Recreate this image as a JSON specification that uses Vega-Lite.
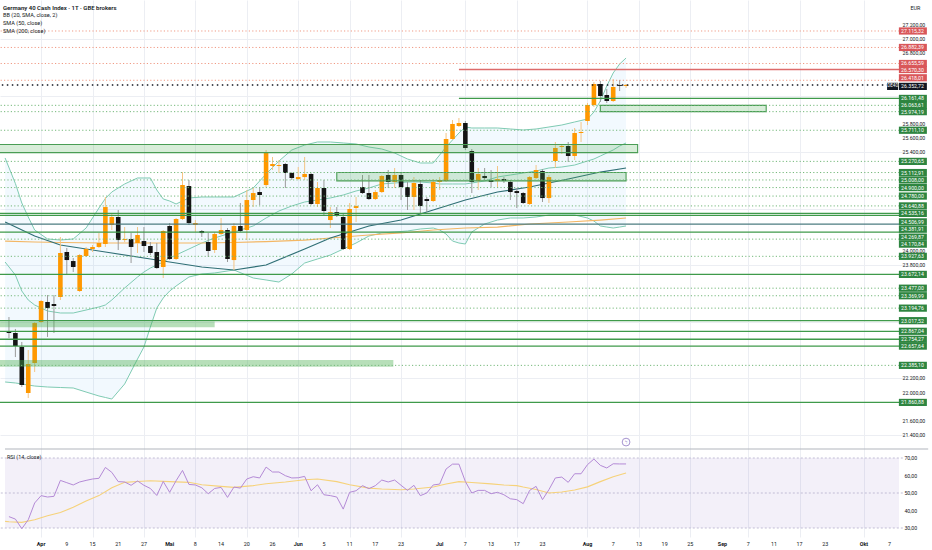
{
  "$schema": "https://vega.github.io/schema/vega-lite/v6.json",
  "description": "Germany 40 Cash Index, daily candles with Bollinger Bands, SMA 50/200, support and resistance levels and RSI pane.",
  "width": 904,
  "height": 537,
  "autosize": {"type": "none"},
  "padding": {"left": 0, "top": 0, "right": 28, "bottom": 13},
  "background": "#ffffff",
  "title": {
    "text": "Germany 40 Cash Index · 1T · GBE brokers",
    "subtitle": ["BB (20, SMA, close, 2)", "SMA (50, close)", "SMA (200, close)"],
    "anchor": "start",
    "frame": "group",
    "offset": -35,
    "dx": 3,
    "font": "Roboto",
    "fontSize": 6,
    "fontWeight": 600,
    "color": "#131722",
    "subtitleFont": "Roboto",
    "subtitleFontSize": 5.6,
    "subtitleColor": "#131722",
    "subtitlePadding": 2.5,
    "subtitleLineHeight": 8
  },
  "config": {
    "font": "Roboto",
    "view": {"stroke": null},
    "locale": {"number": {"decimal": ",", "thousands": ".", "grouping": [3], "currency": ["", " €"]}},
    "axis": {"labelFont": "Roboto", "titleFont": "Roboto"}
  },
  "datasets": {
    "candles": [
      {"i": 0, "o": 22857, "h": 23069, "l": 22772, "c": 22843, "rsi": 36.5},
      {"i": 1, "o": 22843, "h": 22900, "l": 22503, "c": 22659, "rsi": 35.1},
      {"i": 2, "o": 22645, "h": 22716, "l": 22079, "c": 22107, "rsi": 29.6},
      {"i": 3, "o": 21994, "h": 22602, "l": 21923, "c": 22404, "rsi": 34.7},
      {"i": 4, "o": 22419, "h": 22999, "l": 22291, "c": 22984, "rsi": 44.3},
      {"i": 5, "o": 22999, "h": 23310, "l": 22984, "c": 23296, "rsi": 48.5},
      {"i": 6, "o": 23282, "h": 23380, "l": 22787, "c": 23197, "rsi": 47.7},
      {"i": 7, "o": 23253, "h": 23380, "l": 22843, "c": 23225, "rsi": 48.1},
      {"i": 8, "o": 23352, "h": 24201, "l": 23310, "c": 23975, "rsi": 57.2},
      {"i": 9, "o": 23989, "h": 24045, "l": 23663, "c": 23875, "rsi": 55.9},
      {"i": 10, "o": 23861, "h": 23904, "l": 23706, "c": 23777, "rsi": 54.6},
      {"i": 11, "o": 23437, "h": 23961, "l": 23423, "c": 23946, "rsi": 56.3},
      {"i": 12, "o": 23932, "h": 24060, "l": 23918, "c": 24031, "rsi": 57.2},
      {"i": 13, "o": 24031, "h": 24088, "l": 23989, "c": 24060, "rsi": 58.0},
      {"i": 14, "o": 24060, "h": 24257, "l": 24045, "c": 24116, "rsi": 58.4},
      {"i": 15, "o": 24102, "h": 24767, "l": 24060, "c": 24625, "rsi": 64.6},
      {"i": 16, "o": 24371, "h": 24540, "l": 24300, "c": 24484, "rsi": 61.8},
      {"i": 17, "o": 24484, "h": 24583, "l": 24017, "c": 24158, "rsi": 56.5},
      {"i": 18, "o": 24158, "h": 24342, "l": 24130, "c": 24172, "rsi": 56.3},
      {"i": 19, "o": 24172, "h": 24257, "l": 23833, "c": 24060, "rsi": 54.4},
      {"i": 20, "o": 24116, "h": 24342, "l": 23975, "c": 24229, "rsi": 56.9},
      {"i": 21, "o": 24144, "h": 24342, "l": 23989, "c": 24074, "rsi": 54.4},
      {"i": 22, "o": 24074, "h": 24130, "l": 23946, "c": 23975, "rsi": 52.6},
      {"i": 23, "o": 23989, "h": 24116, "l": 23750, "c": 23762, "rsi": 48.6},
      {"i": 24, "o": 23777, "h": 24300, "l": 23621, "c": 24286, "rsi": 56.6},
      {"i": 25, "o": 24357, "h": 24399, "l": 23875, "c": 23890, "rsi": 50.4},
      {"i": 26, "o": 23890, "h": 24470, "l": 23875, "c": 24456, "rsi": 57.0},
      {"i": 27, "o": 24456, "h": 25120, "l": 24441, "c": 24937, "rsi": 62.9},
      {"i": 28, "o": 24922, "h": 25007, "l": 24371, "c": 24399, "rsi": 54.9},
      {"i": 29, "o": 24371, "h": 24441, "l": 24272, "c": 24399, "rsi": 54.6},
      {"i": 30, "o": 24286, "h": 24300, "l": 24201, "c": 24257, "rsi": 53.0},
      {"i": 31, "o": 24130, "h": 24257, "l": 23918, "c": 24003, "rsi": 49.6},
      {"i": 32, "o": 24017, "h": 24272, "l": 23975, "c": 24243, "rsi": 52.6},
      {"i": 33, "o": 24243, "h": 24470, "l": 24229, "c": 24300, "rsi": 53.2},
      {"i": 34, "o": 24300, "h": 24328, "l": 23847, "c": 23890, "rsi": 47.5},
      {"i": 35, "o": 23875, "h": 24399, "l": 23734, "c": 24357, "rsi": 53.4},
      {"i": 36, "o": 24357, "h": 24682, "l": 24272, "c": 24286, "rsi": 52.8},
      {"i": 37, "o": 24300, "h": 24866, "l": 24158, "c": 24724, "rsi": 58.0},
      {"i": 38, "o": 24724, "h": 24894, "l": 24625, "c": 24823, "rsi": 59.3},
      {"i": 39, "o": 24837, "h": 24908, "l": 24653, "c": 24795, "rsi": 58.6},
      {"i": 40, "o": 24937, "h": 25432, "l": 24908, "c": 25389, "rsi": 64.8},
      {"i": 41, "o": 25205, "h": 25333, "l": 25149, "c": 25234, "rsi": 62.0},
      {"i": 42, "o": 25205, "h": 25290, "l": 25106, "c": 25219, "rsi": 62.0},
      {"i": 43, "o": 25234, "h": 25248, "l": 24894, "c": 25106, "rsi": 59.9},
      {"i": 44, "o": 25106, "h": 25120, "l": 25007, "c": 25035, "rsi": 58.6},
      {"i": 45, "o": 25021, "h": 25191, "l": 25007, "c": 25049, "rsi": 58.7},
      {"i": 46, "o": 25049, "h": 25333, "l": 25007, "c": 25092, "rsi": 59.5},
      {"i": 47, "o": 25092, "h": 25106, "l": 24653, "c": 24668, "rsi": 51.3},
      {"i": 48, "o": 24668, "h": 24979, "l": 24625, "c": 24894, "rsi": 54.7},
      {"i": 49, "o": 24894, "h": 25007, "l": 24512, "c": 24569, "rsi": 49.0},
      {"i": 50, "o": 24441, "h": 24625, "l": 24328, "c": 24554, "rsi": 48.5},
      {"i": 51, "o": 24554, "h": 24625, "l": 24484, "c": 24498, "rsi": 47.7},
      {"i": 52, "o": 24484, "h": 24540, "l": 24017, "c": 24031, "rsi": 40.8},
      {"i": 53, "o": 24031, "h": 24682, "l": 24017, "c": 24597, "rsi": 50.4},
      {"i": 54, "o": 24611, "h": 24767, "l": 24413, "c": 24639, "rsi": 51.3},
      {"i": 55, "o": 24908, "h": 25078, "l": 24810, "c": 24823, "rsi": 54.2},
      {"i": 56, "o": 24823, "h": 25078, "l": 24724, "c": 24738, "rsi": 52.5},
      {"i": 57, "o": 24738, "h": 24866, "l": 24724, "c": 24837, "rsi": 54.2},
      {"i": 58, "o": 24837, "h": 25078, "l": 24823, "c": 25064, "rsi": 57.4},
      {"i": 59, "o": 25078, "h": 25149, "l": 24894, "c": 24979, "rsi": 56.3},
      {"i": 60, "o": 24979, "h": 25177, "l": 24894, "c": 25078, "rsi": 57.4},
      {"i": 61, "o": 25078, "h": 25120, "l": 24724, "c": 24908, "rsi": 54.4},
      {"i": 62, "o": 24908, "h": 24979, "l": 24583, "c": 24767, "rsi": 51.5},
      {"i": 63, "o": 24767, "h": 25049, "l": 24583, "c": 24965, "rsi": 54.4},
      {"i": 64, "o": 24951, "h": 25007, "l": 24540, "c": 24639, "rsi": 48.5},
      {"i": 65, "o": 24738, "h": 24767, "l": 24554, "c": 24710, "rsi": 50.0},
      {"i": 66, "o": 24710, "h": 25021, "l": 24696, "c": 24979, "rsi": 54.6},
      {"i": 67, "o": 24979, "h": 25049, "l": 24866, "c": 25007, "rsi": 55.1},
      {"i": 68, "o": 24993, "h": 25672, "l": 24979, "c": 25587, "rsi": 63.7},
      {"i": 69, "o": 25587, "h": 25856, "l": 25573, "c": 25800, "rsi": 66.5},
      {"i": 70, "o": 25771, "h": 25884, "l": 25757, "c": 25814, "rsi": 66.5},
      {"i": 71, "o": 25814, "h": 25842, "l": 25432, "c": 25460, "rsi": 56.6},
      {"i": 72, "o": 25418, "h": 25446, "l": 24823, "c": 24979, "rsi": 50.0},
      {"i": 73, "o": 24993, "h": 25177, "l": 24866, "c": 25092, "rsi": 51.5},
      {"i": 74, "o": 25064, "h": 25177, "l": 25007, "c": 25035, "rsi": 51.5},
      {"i": 75, "o": 25007, "h": 25149, "l": 24908, "c": 24979, "rsi": 49.6},
      {"i": 76, "o": 24993, "h": 25205, "l": 24908, "c": 25021, "rsi": 50.4},
      {"i": 77, "o": 25021, "h": 25049, "l": 24965, "c": 24993, "rsi": 49.0},
      {"i": 78, "o": 24979, "h": 25007, "l": 24724, "c": 24837, "rsi": 46.7},
      {"i": 79, "o": 24851, "h": 24894, "l": 24611, "c": 24823, "rsi": 46.2},
      {"i": 80, "o": 24823, "h": 24837, "l": 24668, "c": 24682, "rsi": 43.9},
      {"i": 81, "o": 24668, "h": 25064, "l": 24653, "c": 25049, "rsi": 51.5},
      {"i": 82, "o": 25035, "h": 25219, "l": 25021, "c": 25149, "rsi": 53.8},
      {"i": 83, "o": 25134, "h": 25163, "l": 24696, "c": 24752, "rsi": 46.2},
      {"i": 84, "o": 24752, "h": 25078, "l": 24682, "c": 25049, "rsi": 51.9},
      {"i": 85, "o": 25276, "h": 25545, "l": 25177, "c": 25460, "rsi": 58.6},
      {"i": 86, "o": 25474, "h": 25517, "l": 25375, "c": 25488, "rsi": 59.1},
      {"i": 87, "o": 25488, "h": 25545, "l": 25262, "c": 25347, "rsi": 56.1},
      {"i": 88, "o": 25347, "h": 25743, "l": 25290, "c": 25672, "rsi": 61.0},
      {"i": 89, "o": 25672, "h": 25828, "l": 25545, "c": 25686, "rsi": 61.0},
      {"i": 90, "o": 25842, "h": 26097, "l": 25785, "c": 26068, "rsi": 66.2},
      {"i": 91, "o": 26068, "h": 26394, "l": 26040, "c": 26365, "rsi": 69.4},
      {"i": 92, "o": 26365, "h": 26408, "l": 26111, "c": 26196, "rsi": 65.8},
      {"i": 93, "o": 26210, "h": 26295, "l": 26097, "c": 26125, "rsi": 64.3},
      {"i": 94, "o": 26125, "h": 26436, "l": 26111, "c": 26323, "rsi": 66.7},
      {"i": 95, "o": 26350, "h": 26422, "l": 26266, "c": 26338, "rsi": 66.6},
      {"i": 96, "o": 26338, "h": 26365, "l": 26309, "c": 26352.72, "rsi": 66.6}
    ],
    "bb": [
      {"i": -0.6, "u": 25319, "b": 23847, "l": 22150},
      {"i": 1, "u": 24958, "b": 23663, "l": 22136},
      {"i": 2, "u": 24682, "b": 23437, "l": 22122},
      {"i": 3, "u": 24484, "b": 23310, "l": 22107},
      {"i": 4, "u": 24300, "b": 23239, "l": 22093},
      {"i": 6, "u": 24173, "b": 23154, "l": 22079},
      {"i": 8, "u": 24158, "b": 23126, "l": 22072},
      {"i": 10, "u": 24173, "b": 23126, "l": 22065},
      {"i": 12, "u": 24328, "b": 23168, "l": 22008},
      {"i": 14, "u": 24611, "b": 23211, "l": 21952},
      {"i": 15, "u": 24746, "b": 23239, "l": 21931},
      {"i": 16, "u": 24838, "b": 23310, "l": 21909},
      {"i": 18, "u": 24951, "b": 23480, "l": 22122},
      {"i": 20, "u": 25036, "b": 23635, "l": 22475},
      {"i": 21, "u": 25036, "b": 23706, "l": 22645},
      {"i": 22, "u": 25036, "b": 23762, "l": 22928},
      {"i": 23, "u": 24866, "b": 23805, "l": 23197},
      {"i": 24, "u": 24739, "b": 23847, "l": 23338},
      {"i": 25, "u": 24710, "b": 23904, "l": 23437},
      {"i": 26, "u": 24668, "b": 23946, "l": 23508},
      {"i": 28, "u": 24753, "b": 24031, "l": 23635},
      {"i": 30, "u": 24767, "b": 24116, "l": 23678},
      {"i": 32, "u": 24767, "b": 24187, "l": 23692},
      {"i": 35, "u": 24767, "b": 24272, "l": 23734},
      {"i": 38, "u": 24894, "b": 24357, "l": 23621},
      {"i": 40, "u": 25092, "b": 24470, "l": 23593},
      {"i": 42, "u": 25276, "b": 24569, "l": 23564},
      {"i": 44, "u": 25432, "b": 24640, "l": 23678},
      {"i": 46, "u": 25502, "b": 24696, "l": 23833},
      {"i": 48, "u": 25545, "b": 24724, "l": 23890},
      {"i": 50, "u": 25545, "b": 24753, "l": 23946},
      {"i": 52, "u": 25531, "b": 24795, "l": 24031},
      {"i": 54, "u": 25517, "b": 24852, "l": 24116},
      {"i": 56, "u": 25474, "b": 24894, "l": 24215},
      {"i": 58, "u": 25446, "b": 24951, "l": 24258},
      {"i": 60, "u": 25389, "b": 24965, "l": 24272},
      {"i": 62, "u": 25304, "b": 24979, "l": 24286},
      {"i": 64, "u": 25248, "b": 24979, "l": 24314},
      {"i": 66, "u": 25248, "b": 24965, "l": 24328},
      {"i": 67, "u": 25361, "b": 24951, "l": 24300},
      {"i": 68, "u": 25474, "b": 24951, "l": 24243},
      {"i": 69, "u": 25573, "b": 24951, "l": 24144},
      {"i": 70, "u": 25672, "b": 24951, "l": 24116},
      {"i": 71, "u": 25757, "b": 24951, "l": 24102},
      {"i": 72, "u": 25743, "b": 24965, "l": 24272},
      {"i": 74, "u": 25743, "b": 24993, "l": 24385},
      {"i": 76, "u": 25743, "b": 25050, "l": 24441},
      {"i": 78, "u": 25729, "b": 25078, "l": 24470},
      {"i": 80, "u": 25715, "b": 25106, "l": 24470},
      {"i": 82, "u": 25729, "b": 25135, "l": 24484},
      {"i": 84, "u": 25757, "b": 25177, "l": 24512},
      {"i": 86, "u": 25785, "b": 25191, "l": 24512},
      {"i": 88, "u": 25828, "b": 25219, "l": 24512},
      {"i": 90, "u": 25870, "b": 25276, "l": 24470},
      {"i": 91, "u": 25969, "b": 25304, "l": 24427},
      {"i": 92, "u": 26125, "b": 25347, "l": 24357},
      {"i": 93, "u": 26337, "b": 25389, "l": 24342},
      {"i": 94, "u": 26521, "b": 25432, "l": 24328},
      {"i": 95, "u": 26648, "b": 25488, "l": 24342},
      {"i": 96, "u": 26733, "b": 25531, "l": 24357}
    ],
    "ma": [
      {"i": -0.6, "s50": 24413, "s200": 24144},
      {"i": 4, "s50": 24215, "s200": 24130},
      {"i": 8, "s50": 24088, "s200": 24123},
      {"i": 15, "s50": 23989, "s200": 24116},
      {"i": 22, "s50": 23890, "s200": 24116},
      {"i": 30, "s50": 23777, "s200": 24116},
      {"i": 35, "s50": 23734, "s200": 24123},
      {"i": 40, "s50": 23805, "s200": 24137},
      {"i": 46, "s50": 24031, "s200": 24158},
      {"i": 50, "s50": 24187, "s200": 24187},
      {"i": 56, "s50": 24357, "s200": 24229},
      {"i": 61, "s50": 24441, "s200": 24258},
      {"i": 66, "s50": 24583, "s200": 24300},
      {"i": 71, "s50": 24724, "s200": 24328},
      {"i": 76, "s50": 24838, "s200": 24342},
      {"i": 81, "s50": 24908, "s200": 24385},
      {"i": 87, "s50": 25021, "s200": 24413},
      {"i": 92, "s50": 25120, "s200": 24441},
      {"i": 96, "s50": 25177, "s200": 24470}
    ],
    "rsima": [
      {"i": -0.6, "v": 33.8}, {"i": 0, "v": 33.6}, {"i": 2, "v": 33.2}, {"i": 4, "v": 34.7},
      {"i": 6, "v": 37.0}, {"i": 8, "v": 38.9}, {"i": 10, "v": 41.8}, {"i": 12, "v": 45.4},
      {"i": 14, "v": 48.5}, {"i": 16, "v": 53.0}, {"i": 18, "v": 56.1}, {"i": 20, "v": 56.6},
      {"i": 22, "v": 57.0}, {"i": 25, "v": 56.5}, {"i": 28, "v": 56.1}, {"i": 30, "v": 54.7},
      {"i": 33, "v": 53.8}, {"i": 35, "v": 53.2}, {"i": 38, "v": 54.2}, {"i": 40, "v": 55.3},
      {"i": 43, "v": 56.3}, {"i": 46, "v": 57.6}, {"i": 48, "v": 58.0}, {"i": 51, "v": 56.5},
      {"i": 53, "v": 54.7}, {"i": 56, "v": 52.8}, {"i": 58, "v": 52.3}, {"i": 61, "v": 51.9},
      {"i": 63, "v": 52.3}, {"i": 66, "v": 53.4}, {"i": 68, "v": 55.1}, {"i": 70, "v": 56.5},
      {"i": 72, "v": 56.0}, {"i": 75, "v": 55.2}, {"i": 77, "v": 54.6}, {"i": 79, "v": 54.2},
      {"i": 80, "v": 53.4}, {"i": 82, "v": 52.0}, {"i": 84, "v": 50.0}, {"i": 86, "v": 50.6},
      {"i": 88, "v": 51.7}, {"i": 90, "v": 53.5}, {"i": 92, "v": 56.5}, {"i": 94, "v": 59.3},
      {"i": 96, "v": 61.4}
    ],
    "levels": [
      {"p": 27115.32, "side": "resistance", "kind": "minor", "from": -5},
      {"p": 26882.39, "side": "resistance", "kind": "minor", "from": -5},
      {"p": 26655.59, "side": "resistance", "kind": "minor", "from": -5},
      {"p": 26570.30, "side": "resistance", "kind": "major", "from": 70},
      {"p": 26418.01, "side": "resistance", "kind": "minor", "from": -5},
      {"p": 26352.72, "side": "last", "kind": "last", "from": -5},
      {"p": 26161.48, "side": "support", "kind": "major", "from": 70},
      {"p": 26063.61, "side": "support", "kind": "minor", "from": -5},
      {"p": 25974.19, "side": "support", "kind": "minor", "from": -5},
      {"p": 25711.10, "side": "support", "kind": "minor", "from": -5},
      {"p": 25270.65, "side": "support", "kind": "minor", "from": -5},
      {"p": 25112.91, "side": "support", "kind": "minor", "from": -5},
      {"p": 25008.00, "side": "support", "kind": "minor", "from": -5},
      {"p": 24900.00, "side": "support", "kind": "minor", "from": -5},
      {"p": 24780.00, "side": "support", "kind": "minor", "from": -5},
      {"p": 24640.88, "side": "support", "kind": "minor", "from": -5},
      {"p": 24535.16, "side": "support", "kind": "major", "from": -5},
      {"p": 24506.99, "side": "support", "kind": "major", "from": -5},
      {"p": 24381.91, "side": "pivot", "kind": "major", "from": -5},
      {"p": 24269.87, "side": "support", "kind": "major", "from": -5},
      {"p": 24170.84, "side": "support", "kind": "minor", "from": -5},
      {"p": 23927.63, "side": "support", "kind": "minor", "from": -5},
      {"p": 23672.14, "side": "support", "kind": "major", "from": -5},
      {"p": 23477.00, "side": "support", "kind": "minor", "from": -5},
      {"p": 23369.99, "side": "support", "kind": "minor", "from": -5},
      {"p": 23194.76, "side": "support", "kind": "minor", "from": -5},
      {"p": 23017.52, "side": "support", "kind": "major", "from": -5},
      {"p": 22867.04, "side": "support", "kind": "major", "from": -5},
      {"p": 22754.27, "side": "support", "kind": "major", "from": -5},
      {"p": 22657.64, "side": "support", "kind": "major", "from": -5},
      {"p": 22385.10, "side": "support", "kind": "minor", "from": -5},
      {"p": 21860.88, "side": "support", "kind": "major", "from": -5}
    ],
    "zones": [
      {"top": 26063.61, "bottom": 25974.19, "from": 92, "to": 117.8, "kind": "box"},
      {"top": 25510, "bottom": 25395, "from": -5, "to": 97.8, "kind": "box"},
      {"top": 25112.91, "bottom": 24995, "from": 51, "to": 96, "kind": "box"},
      {"top": 23005, "bottom": 22923, "from": -5, "to": 32, "kind": "band"},
      {"top": 22461, "bottom": 22366, "from": -5, "to": 59.8, "kind": "band"}
    ],
    "pticks": [
      {"p": 27200}, {"p": 27000}, {"p": 26800}, {"p": 25800}, {"p": 25600}, {"p": 25400},
      {"p": 24000}, {"p": 23800}, {"p": 22200}, {"p": 22000}, {"p": 21600}, {"p": 21400}
    ],
    "rticks": [{"r": 70}, {"r": 60}, {"r": 50}, {"r": 40}, {"r": 30}],
    "xticks": [
      {"i": 5, "t": "Apr", "month": true}, {"i": 9, "t": "9", "month": false}, {"i": 13, "t": "15", "month": false},
      {"i": 17, "t": "21", "month": false}, {"i": 21, "t": "27", "month": false}, {"i": 25, "t": "Mai", "month": true},
      {"i": 29, "t": "8", "month": false}, {"i": 33, "t": "14", "month": false}, {"i": 37, "t": "20", "month": false},
      {"i": 41, "t": "26", "month": false}, {"i": 45, "t": "Jun", "month": true}, {"i": 49, "t": "5", "month": false},
      {"i": 53, "t": "11", "month": false}, {"i": 57, "t": "17", "month": false}, {"i": 61, "t": "23", "month": false},
      {"i": 67, "t": "Jul", "month": true}, {"i": 71, "t": "7", "month": false}, {"i": 75, "t": "13", "month": false},
      {"i": 79, "t": "17", "month": false}, {"i": 83, "t": "23", "month": false}, {"i": 90, "t": "Aug", "month": true},
      {"i": 94, "t": "7", "month": false}, {"i": 98, "t": "13", "month": false}, {"i": 102, "t": "19", "month": false},
      {"i": 106, "t": "25", "month": false}, {"i": 111, "t": "Sep", "month": true}, {"i": 115, "t": "7", "month": false},
      {"i": 119, "t": "11", "month": false}, {"i": 123, "t": "17", "month": false}, {"i": 127, "t": "23", "month": false},
      {"i": 133, "t": "Okt", "month": true}, {"i": 137, "t": "7", "month": false}
    ],
    "rsiLevels": [{"r": 70}, {"r": 50}, {"r": 30}],
    "one": [{"n": 1}]
  },
  "layer": [
    {
      "layer": [
        {
          "data": {"name": "bb"},
          "mark": {"type": "area", "color": "#2196f3", "opacity": 0.06},
          "encoding": {
            "x": {
              "field": "i",
              "type": "quantitative",
              "scale": {"domain": [-0.615, 138.46], "nice": false, "zero": false},
              "axis": {
                "orient": "bottom",
                "title": null,
                "values": [5, 9, 13, 17, 21, 25, 29, 33, 37, 41, 45, 49, 53, 57, 61, 67, 71, 75, 79, 83, 90, 94, 98, 102, 106, 111, 115, 119, 123, 127, 133, 137],
                "labels": false,
                "domain": false,
                "ticks": false,
                "grid": true,
                "gridColor": "#eceef3",
                "gridWidth": 1
              }
            },
            "y": {"field": "u", "type": "quantitative", "scale": {"domain": [19957.2, 27553.65], "nice": false, "zero": false},
              "axis": {
                "orient": "right",
                "title": "EUR",
                "titleAngle": 0,
                "titleX": 6,
                "titleY": 7,
                "titleAlign": "left",
                "titleBaseline": "middle",
                "titleFontSize": 5.4,
                "titleFontWeight": "normal",
                "titleColor": "#131722",
                "values": [21400, 21600, 21800, 22000, 22200, 22400, 22600, 22800, 23000, 23200, 23400, 23600, 23800, 24000, 24200, 24400, 24600, 24800, 25000, 25200, 25400, 25600, 25800, 26000, 26200, 26400, 26600, 26800, 27000, 27200, 27400],
                "labels": false,
                "domain": false,
                "ticks": false,
                "grid": true,
                "gridColor": "#eceef3"
              }
            },
            "y2": {"field": "l"}
          }
        },
        {
          "data": {"name": "bb"},
          "mark": {"type": "line", "color": "#7fcbb3", "strokeWidth": 1},
          "encoding": {
            "x": {"field": "i", "type": "quantitative"},
            "y": {"field": "u", "type": "quantitative", "scale": {"domain": [19957.2, 27553.65], "nice": false, "zero": false}}
          }
        },
        {
          "data": {"name": "bb"},
          "mark": {"type": "line", "color": "#7fcbb3", "strokeWidth": 1},
          "encoding": {
            "x": {"field": "i", "type": "quantitative"},
            "y": {"field": "b", "type": "quantitative", "scale": {"domain": [19957.2, 27553.65], "nice": false, "zero": false}}
          }
        },
        {
          "data": {"name": "bb"},
          "mark": {"type": "line", "color": "#7fcbb3", "strokeWidth": 1},
          "encoding": {
            "x": {"field": "i", "type": "quantitative"},
            "y": {"field": "l", "type": "quantitative", "scale": {"domain": [19957.2, 27553.65], "nice": false, "zero": false}}
          }
        },
        {
          "data": {"name": "ma"},
          "mark": {"type": "line", "color": "#f3b765", "strokeWidth": 1.2},
          "encoding": {
            "x": {"field": "i", "type": "quantitative"},
            "y": {"field": "s200", "type": "quantitative", "scale": {"domain": [19957.2, 27553.65], "nice": false, "zero": false}}
          }
        },
        {
          "data": {"name": "ma"},
          "mark": {"type": "line", "color": "#2f6f75", "strokeWidth": 1.2},
          "encoding": {
            "x": {"field": "i", "type": "quantitative"},
            "y": {"field": "s50", "type": "quantitative", "scale": {"domain": [19957.2, 27553.65], "nice": false, "zero": false}}
          }
        },
        {
          "data": {"name": "candles"},
          "mark": {"type": "rule", "strokeWidth": 1},
          "encoding": {
            "x": {"field": "i", "type": "quantitative"},
            "y": {"field": "h", "type": "quantitative", "scale": {"domain": [19957.2, 27553.65], "nice": false, "zero": false}},
            "y2": {"field": "l"},
            "color": {"condition": {"test": "datum.c >= datum.o", "value": "#f4c585"}, "value": "#9a9a9a"}
          }
        },
        {
          "data": {"name": "candles"},
          "mark": {"type": "bar", "width": 4.6},
          "encoding": {
            "x": {"field": "i", "type": "quantitative"},
            "y": {"field": "o", "type": "quantitative", "scale": {"domain": [19957.2, 27553.65], "nice": false, "zero": false}},
            "y2": {"field": "c"},
            "color": {"condition": {"test": "datum.c >= datum.o", "value": "#ff9800"}, "value": "#141414"}
          }
        },
        {
          "data": {"name": "zones"},
          "transform": [{"filter": "datum.kind == 'box'"}],
          "mark": {"type": "rect", "clip": true, "fill": "#4caf50", "fillOpacity": 0.22, "stroke": "#4a9d55", "strokeWidth": 1.1},
          "encoding": {
            "x": {"field": "from", "type": "quantitative"},
            "x2": {"field": "to"},
            "y": {"field": "top", "type": "quantitative", "scale": {"domain": [19957.2, 27553.65], "nice": false, "zero": false}},
            "y2": {"field": "bottom"}
          }
        },
        {
          "data": {"name": "zones"},
          "transform": [{"filter": "datum.kind == 'band'"}],
          "mark": {"type": "rect", "clip": true, "fill": "#4caf50", "fillOpacity": 0.4},
          "encoding": {
            "x": {"field": "from", "type": "quantitative"},
            "x2": {"field": "to"},
            "y": {"field": "top", "type": "quantitative", "scale": {"domain": [19957.2, 27553.65], "nice": false, "zero": false}},
            "y2": {"field": "bottom"}
          }
        },
        {
          "data": {"name": "levels"},
          "transform": [{"filter": "datum.kind == 'minor'"}],
          "mark": {"type": "rule", "clip": true, "strokeWidth": 1, "strokeDash": [1.2, 2.2]},
          "encoding": {
            "x": {"field": "from", "type": "quantitative"},
            "x2": {"datum": 200},
            "y": {"field": "p", "type": "quantitative", "scale": {"domain": [19957.2, 27553.65], "nice": false, "zero": false}},
            "color": {"condition": {"test": "datum.side == 'resistance'", "value": "#f09a84"}, "value": "#74b87a"}
          }
        },
        {
          "data": {"name": "levels"},
          "transform": [{"filter": "datum.kind == 'major'"}],
          "mark": {"type": "rule", "clip": true, "strokeWidth": 1.3},
          "encoding": {
            "x": {"field": "from", "type": "quantitative"},
            "x2": {"datum": 200},
            "y": {"field": "p", "type": "quantitative", "scale": {"domain": [19957.2, 27553.65], "nice": false, "zero": false}},
            "color": {"condition": [{"test": "datum.side == 'resistance'", "value": "#dd6b6b"}, {"test": "datum.side == 'pivot'", "value": "#4d7c80"}], "value": "#3f9a4a"}
          }
        },
        {
          "data": {"name": "levels"},
          "transform": [{"filter": "datum.kind == 'last'"}],
          "mark": {"type": "rule", "clip": true, "strokeWidth": 1.5, "strokeDash": [1.5, 3.5], "color": "#131722"},
          "encoding": {
            "x": {"field": "from", "type": "quantitative"},
            "x2": {"datum": 200},
            "y": {"field": "p", "type": "quantitative", "scale": {"domain": [19957.2, 27553.65], "nice": false, "zero": false}}
          }
        },
        {
          "data": {"name": "one"},
          "mark": {"type": "rule", "color": "#b2b5be", "strokeWidth": 1.2},
          "encoding": {
            "x": {"datum": -0.615, "type": "quantitative"},
            "x2": {"datum": 143},
            "y": {"datum": 21202, "type": "quantitative", "scale": {"domain": [19957.2, 27553.65], "nice": false, "zero": false}}
          }
        },
        {
          "data": {"name": "pticks"},
          "mark": {"type": "text", "align": "left", "baseline": "middle", "fontSize": 5.2, "color": "#131722"},
          "encoding": {
            "x": {"datum": 139.0, "type": "quantitative"},
            "y": {"field": "p", "type": "quantitative", "scale": {"domain": [19957.2, 27553.65], "nice": false, "zero": false}},
            "text": {"field": "p", "type": "quantitative", "format": ",.2f"}
          }
        },
        {
          "data": {"name": "levels"},
          "transform": [{"filter": "indexof([26418.01, 26352.72, 24506.99, 24381.91, 24269.87, 24170.84], datum.p) < 0"}],
          "layer": [
            {
              "mark": {"type": "tick", "orient": "horizontal", "size": 28, "thickness": 7.2, "opacity": 1},
              "encoding": {
                "x": {"datum": 140.62, "type": "quantitative"},
                "y": {"field": "p", "type": "quantitative", "scale": {"domain": [19957.2, 27553.65], "nice": false, "zero": false}},
                "color": {"condition": {"test": "datum.side == 'resistance'", "value": "#d9575a"}, "value": "#2e8540"}
              }
            },
            {
              "mark": {"type": "text", "align": "left", "baseline": "middle", "fontSize": 5.2, "color": "#ffffff"},
              "encoding": {
                "x": {"datum": 138.78, "type": "quantitative"},
                "y": {"field": "p", "type": "quantitative", "scale": {"domain": [19957.2, 27553.65], "nice": false, "zero": false}},
                "text": {"field": "p", "type": "quantitative", "format": ",.2f"}
              }
            }
          ]
        },
        {
          "data": {"name": "levels"},
          "transform": [{"filter": "datum.p == 26418.01"}],
          "layer": [
            {
              "mark": {"type": "tick", "orient": "horizontal", "size": 28, "thickness": 7.2, "opacity": 1, "color": "#d9575a", "yOffset": -2.5},
              "encoding": {
                "x": {"datum": 140.62, "type": "quantitative"},
                "y": {"field": "p", "type": "quantitative", "scale": {"domain": [19957.2, 27553.65], "nice": false, "zero": false}}
              }
            },
            {
              "mark": {"type": "text", "align": "left", "baseline": "middle", "fontSize": 5.2, "color": "#ffffff", "yOffset": -2.5},
              "encoding": {
                "x": {"datum": 138.78, "type": "quantitative"},
                "y": {"field": "p", "type": "quantitative", "scale": {"domain": [19957.2, 27553.65], "nice": false, "zero": false}},
                "text": {"field": "p", "type": "quantitative", "format": ",.2f"}
              }
            }
          ]
        },
        {
          "data": {"name": "levels"},
          "transform": [{"filter": "datum.kind == 'last'"}],
          "layer": [
            {
              "mark": {"type": "tick", "orient": "horizontal", "size": 28, "thickness": 7.2, "opacity": 1, "color": "#131722", "yOffset": 1.5},
              "encoding": {
                "x": {"datum": 140.62, "type": "quantitative"},
                "y": {"field": "p", "type": "quantitative", "scale": {"domain": [19957.2, 27553.65], "nice": false, "zero": false}}
              }
            },
            {
              "mark": {"type": "text", "align": "left", "baseline": "middle", "fontSize": 5.2, "color": "#ffffff", "yOffset": 1.5},
              "encoding": {
                "x": {"datum": 138.78, "type": "quantitative"},
                "y": {"field": "p", "type": "quantitative", "scale": {"domain": [19957.2, 27553.65], "nice": false, "zero": false}},
                "text": {"field": "p", "type": "quantitative", "format": ",.2f"}
              }
            },
            {
              "mark": {"type": "tick", "orient": "horizontal", "size": 11, "thickness": 7.2, "opacity": 1, "color": "#131722", "yOffset": 1.5},
              "encoding": {
                "x": {"datum": 137.46, "type": "quantitative"},
                "y": {"field": "p", "type": "quantitative", "scale": {"domain": [19957.2, 27553.65], "nice": false, "zero": false}}
              }
            },
            {
              "mark": {"type": "text", "align": "center", "baseline": "middle", "fontSize": 4.6, "color": "#ffffff", "text": "DE40", "yOffset": 1.5},
              "encoding": {
                "x": {"datum": 137.46, "type": "quantitative"},
                "y": {"field": "p", "type": "quantitative", "scale": {"domain": [19957.2, 27553.65], "nice": false, "zero": false}}
              }
            }
          ]
        },
        {
          "data": {"name": "levels"},
          "transform": [{"filter": "datum.p == 24506.99"}],
          "layer": [
            {
              "mark": {"type": "tick", "orient": "horizontal", "size": 28, "thickness": 7.2, "opacity": 1, "color": "#2e8540", "yOffset": 6.5},
              "encoding": {
                "x": {"datum": 140.62, "type": "quantitative"},
                "y": {"field": "p", "type": "quantitative", "scale": {"domain": [19957.2, 27553.65], "nice": false, "zero": false}}
              }
            },
            {
              "mark": {"type": "text", "align": "left", "baseline": "middle", "fontSize": 5.2, "color": "#ffffff", "yOffset": 6.5},
              "encoding": {
                "x": {"datum": 138.78, "type": "quantitative"},
                "y": {"field": "p", "type": "quantitative", "scale": {"domain": [19957.2, 27553.65], "nice": false, "zero": false}},
                "text": {"field": "p", "type": "quantitative", "format": ",.2f"}
              }
            }
          ]
        },
        {
          "data": {"name": "levels"},
          "transform": [{"filter": "indexof([24381.91, 24269.87, 24170.84], datum.p) >= 0"}],
          "layer": [
            {
              "mark": {"type": "tick", "orient": "horizontal", "size": 28, "thickness": 7.2, "opacity": 1, "color": "#2e8540", "yOffset": 5},
              "encoding": {
                "x": {"datum": 140.62, "type": "quantitative"},
                "y": {"field": "p", "type": "quantitative", "scale": {"domain": [19957.2, 27553.65], "nice": false, "zero": false}}
              }
            },
            {
              "mark": {"type": "text", "align": "left", "baseline": "middle", "fontSize": 5.2, "color": "#ffffff", "yOffset": 5},
              "encoding": {
                "x": {"datum": 138.78, "type": "quantitative"},
                "y": {"field": "p", "type": "quantitative", "scale": {"domain": [19957.2, 27553.65], "nice": false, "zero": false}},
                "text": {"field": "p", "type": "quantitative", "format": ",.2f"}
              }
            }
          ]
        },
        {
          "data": {"name": "one"},
          "mark": {"type": "point", "shape": "circle", "size": 60, "filled": true, "fill": "#ffffff", "stroke": "#9b87c9", "strokeWidth": 0.9, "opacity": 1},
          "encoding": {
            "x": {"datum": 96, "type": "quantitative"},
            "y": {"datum": 21300, "type": "quantitative", "scale": {"domain": [19957.2, 27553.65], "nice": false, "zero": false}}
          }
        },
        {
          "data": {"name": "one"},
          "mark": {"type": "text", "align": "center", "baseline": "middle", "fontSize": 6, "color": "#9b87c9", "text": "ϟ"},
          "encoding": {
            "x": {"datum": 96, "type": "quantitative"},
            "y": {"datum": 21300, "type": "quantitative", "scale": {"domain": [19957.2, 27553.65], "nice": false, "zero": false}}
          }
        }
      ]
    },
    {
      "layer": [
        {
          "data": {"name": "one"},
          "mark": {"type": "rect", "color": "#7e57c2", "opacity": 0.09},
          "encoding": {
            "x": {"datum": -0.615, "type": "quantitative"},
            "x2": {"datum": 138.46},
            "y": {"datum": 70, "type": "quantitative", "scale": {"domain": [24.86, 331.71], "nice": false, "zero": false},
              "axis": {"orient": "right", "title": null, "labels": false, "domain": false, "ticks": false, "grid": false}
            },
            "y2": {"datum": 30}
          }
        },
        {
          "data": {"name": "rsiLevels"},
          "mark": {"type": "rule", "clip": true, "color": "#b4aecb", "strokeWidth": 0.8, "strokeDash": [2, 2]},
          "encoding": {
            "x": {"datum": -5, "type": "quantitative"},
            "x2": {"datum": 200},
            "y": {"field": "r", "type": "quantitative", "scale": {"domain": [24.86, 331.71], "nice": false, "zero": false}}
          }
        },
        {
          "data": {"name": "rsima"},
          "mark": {"type": "line", "color": "#f6d27a", "strokeWidth": 1.1},
          "encoding": {
            "x": {"field": "i", "type": "quantitative"},
            "y": {"field": "v", "type": "quantitative", "scale": {"domain": [24.86, 331.71], "nice": false, "zero": false}}
          }
        },
        {
          "data": {"name": "candles"},
          "mark": {"type": "line", "color": "#b48ad6", "strokeWidth": 1},
          "encoding": {
            "x": {"field": "i", "type": "quantitative"},
            "y": {"field": "rsi", "type": "quantitative", "scale": {"domain": [24.86, 331.71], "nice": false, "zero": false}}
          }
        },
        {
          "data": {"name": "one"},
          "mark": {"type": "text", "align": "left", "baseline": "middle", "fontSize": 5.4, "color": "#131722", "text": "RSI (14, close)"},
          "encoding": {
            "x": {"datum": -0.3, "type": "quantitative"},
            "y": {"datum": 70.8, "type": "quantitative", "scale": {"domain": [24.86, 331.71], "nice": false, "zero": false}}
          }
        },
        {
          "data": {"name": "rticks"},
          "mark": {"type": "text", "align": "left", "baseline": "middle", "fontSize": 5.2, "color": "#131722"},
          "encoding": {
            "x": {"datum": 139.3, "type": "quantitative"},
            "y": {"field": "r", "type": "quantitative", "scale": {"domain": [24.86, 331.71], "nice": false, "zero": false}},
            "text": {"field": "r", "type": "quantitative", "format": ",.2f"}
          }
        },
        {
          "data": {"name": "xticks"},
          "transform": [{"filter": "datum.month"}],
          "mark": {"type": "text", "align": "center", "baseline": "middle", "fontSize": 5.4, "fontWeight": "bold", "color": "#131722"},
          "encoding": {
            "x": {"field": "i", "type": "quantitative"},
            "y": {"datum": 20.9, "type": "quantitative", "scale": {"domain": [24.86, 331.71], "nice": false, "zero": false}},
            "text": {"field": "t"}
          }
        },
        {
          "data": {"name": "xticks"},
          "transform": [{"filter": "!datum.month"}],
          "mark": {"type": "text", "align": "center", "baseline": "middle", "fontSize": 5.4, "color": "#131722"},
          "encoding": {
            "x": {"field": "i", "type": "quantitative"},
            "y": {"datum": 20.9, "type": "quantitative", "scale": {"domain": [24.86, 331.71], "nice": false, "zero": false}},
            "text": {"field": "t"}
          }
        }
      ]
    }
  ],
  "resolve": {"scale": {"y": "independent"}, "axis": {"y": "independent"}}
}
